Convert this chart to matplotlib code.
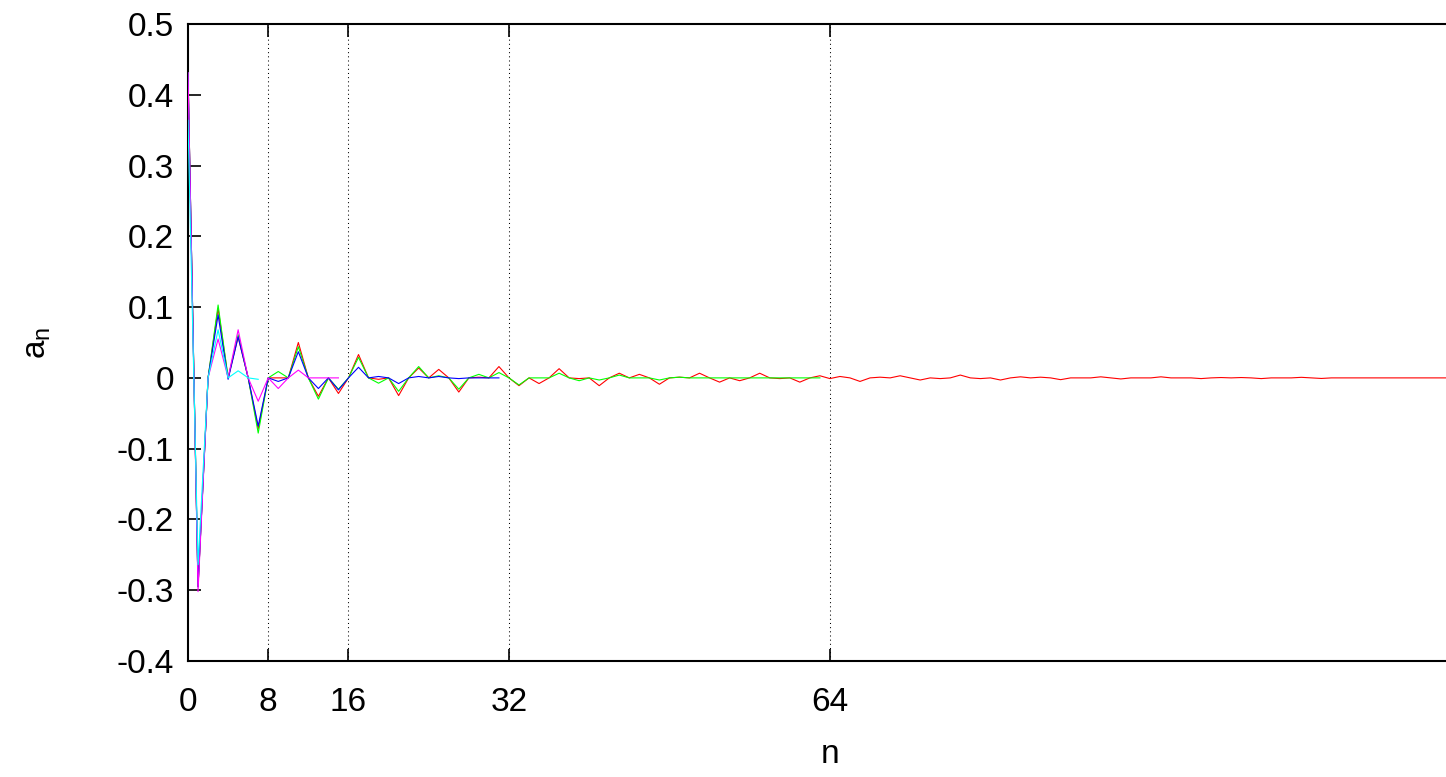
import matplotlib
matplotlib.use("Agg")
import matplotlib.pyplot as plt
import numpy as np

plt.rcParams['font.family'] = ['Liberation Sans', 'DejaVu Sans']
plt.rcParams['mathtext.fontset'] = 'custom'
plt.rcParams['mathtext.rm'] = 'Liberation Sans'
plt.rcParams['mathtext.it'] = 'Liberation Sans'

red = [0.431, -0.295, 0.0, 0.098, 0.0, 0.058, 0.0, -0.072, 0.0, 0.000,
       0.0, 0.050, 0.0, -0.026, 0.0, -0.022, 0.0, 0.033, 0.0, -0.002,
       0.0, -0.025, 0.0, 0.014, 0.0, 0.012, 0.0, -0.020, 0.0, 0.001,
       0.0, 0.016, 0.0, -0.011, 0.0, -0.008, 0.0, 0.013, 0.0, -0.001,
       0.0, -0.011, 0.0, 0.0066, 0.0, 0.005, 0.0, -0.009, 0.0, 0.001,
       0.0, 0.0066, 0.0, -0.006, 0.0, -0.004, 0.0, 0.0066, 0.0, -0.001,
       0.0, -0.006, 0.0, 0.003, -0.001, 0.002, 0.0, -0.005, 0.0, 0.001,
       0.0, 0.003, 0.0, -0.003, 0.0, -0.001, 0.0, 0.004, 0.0, -0.001,
       0.0, -0.003, 0.0, 0.0015, 0.0, 0.001, 0.0, -0.0025, 0.0, 0.0,
       0.0, 0.0015, 0.0, -0.0015, 0.0, 0.0, 0.0, 0.0015, 0.0, 0.0,
       0.0, -0.001, 0.0, 0.0005, 0.0, 0.0005, 0.0, -0.001, 0.0, 0.0,
       0.0, 0.0008, 0.0, -0.0008, 0.0, 0.0, 0.0, 0.0, 0.0, 0.0,
       0.0, 0.0, 0.0, 0.0, 0.0, 0.0, 0.0, 0.0]

green = [0.431, -0.295, 0.0, 0.103, 0.0, 0.061, 0.0, -0.078, 0.0, 0.009,
         0.0, 0.044, 0.0, -0.030, 0.0, -0.016, 0.0, 0.029, 0.0, -0.0075,
         0.0, -0.019, 0.0, 0.016, 0.0, 0.003, 0.0, -0.016, 0.0, 0.005,
         0.0, 0.0075, 0.0, -0.010, 0.0, 0.0, 0.0, 0.0066, 0.0, -0.004,
         0.0, -0.003, 0.0, 0.004, 0.0, 0.0, 0.0, -0.003, 0.0, 0.001,
         0.0, 0.0, 0.0, 0.0, 0.0, 0.0, 0.0, 0.0, 0.0, 0.0,
         0.0, 0.0, 0.0, 0.0]

blue = [0.431, -0.295, 0.0, 0.089, -0.002, 0.058, 0.0, -0.068, 0.0, -0.005,
        0.0, 0.037, 0.0, -0.015, 0.0, -0.017, 0.0, 0.015, 0.0, 0.002,
        0.0, -0.008, 0.0, 0.002, 0.0, 0.002, 0.0, -0.001, 0.0, 0.0,
        0.0, 0.0]

magenta = [0.431, -0.302, 0.0, 0.055, 0.0, 0.068, 0.0, -0.033, 0.0, -0.015,
           0.0, 0.011, 0.0, 0.0, 0.0, 0.0]

cyan = [0.364, -0.264, 0.0, 0.068, 0.0, 0.010, 0.0, -0.002]

xticks = [0, 8, 16, 32, 64]
yticks = [-0.4, -0.3, -0.2, -0.1, 0, 0.1, 0.2, 0.3, 0.4, 0.5]
ytick_labels = ['-0.4', '-0.3', '-0.2', '-0.1', '0', '0.1', '0.2', '0.3', '0.4', '0.5']

series = [(red, '#ff0000'), (green, '#00ff00'), (blue, '#0000ff'),
          (magenta, '#ff00ff'), (cyan, '#00ffff')]

W, H = 1446, 777
fig = plt.figure(figsize=(W / 100, H / 100), dpi=100)
left_px, right_px, top_px, bot_px = 188, 188 + 128 * 10.03, 24, 661
ax = fig.add_axes([left_px / W, 1 - bot_px / H, (right_px - left_px) / W, (bot_px - top_px) / H])

for vals, col in series:
    ax.plot(np.arange(len(vals)), vals, color=col, lw=0.8, zorder=3)

ax.set_xlim(0, 128)
ax.set_ylim(-0.4, 0.5)
ax.set_xticks(xticks)
ax.set_xticklabels([str(t) for t in xticks])
ax.set_yticks(yticks)
ax.set_yticklabels(ytick_labels)
for t in xticks[1:]:
    ax.axvline(t, color='black', lw=0.75, linestyle=(0, (1, 3)), zorder=1)

ax.tick_params(axis='both', direction='in', length=9, width=1.2,
               top=True, right=True, labelsize=24, colors='black')
ax.tick_params(axis='x', pad=19)
ax.tick_params(axis='y', pad=10)
for s in ax.spines.values():
    s.set_linewidth(1.5)

ax.set_xlabel('n', fontsize=24, labelpad=15)
ax.set_ylabel(r'$\mathregular{a_n}$', fontsize=24, labelpad=46)

fig.savefig('out.png', dpi=100)
